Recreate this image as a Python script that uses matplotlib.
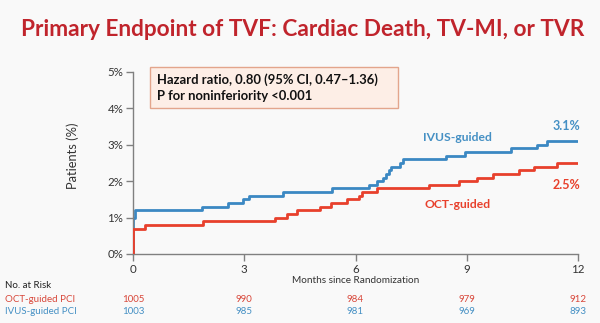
import matplotlib
matplotlib.use("Agg")
import matplotlib.pyplot as plt
from matplotlib.patches import FancyBboxPatch

plt.rcParams['font.family'] = ['Lato', 'DejaVu Sans']

# Data
oct_t = [0, 0, 0.32, 1.88, 3.83, 4.14, 4.43, 5.04, 5.35, 5.78, 6.09, 6.17, 6.57,
         7.99, 8.80, 9.27, 9.70, 10.41, 10.80, 11.44, 12.0]
oct_y = [0, 0.7, 0.8, 0.9, 1.0, 1.1, 1.2, 1.3, 1.4, 1.5, 1.6, 1.7, 1.8,
         1.9, 2.0, 2.1, 2.2, 2.3, 2.4, 2.5, 2.5]
ivus_t = [0, 0, 0.05, 1.85, 2.57, 2.96, 3.13, 4.05, 5.37, 6.36, 6.59, 6.75, 6.82,
          6.89, 6.95, 7.20, 7.29, 8.44, 8.94, 10.19, 10.90, 11.17, 12.0]
ivus_y = [0, 1.0, 1.2, 1.3, 1.4, 1.5, 1.6, 1.7, 1.8, 1.9, 2.0, 2.1, 2.2,
          2.3, 2.4, 2.5, 2.6, 2.7, 2.8, 2.9, 3.0, 3.1, 3.1]
x_ticks = [0, 3, 6, 9, 12]
y_ticks = [0, 1, 2, 3, 4, 5]
y_ticklabels = ["0%", "1%", "2%", "3%", "4%", "5%"]
risk_oct = [1005, 990, 984, 979, 912]
risk_ivus = [1003, 985, 981, 969, 893]

title = "Primary Endpoint of TVF: Cardiac Death, TV-MI, or TVR"
box_text = "Hazard ratio, 0.80 (95% CI, 0.47\u20131.36)\nP for noninferiority <0.001"

RED = "#e8402c"
BLUE = "#3b88c3"
RED_TXT = "#d8473a"
BLUE_TXT = "#4590c4"
TITLE_RED = "#c0242c"
BG = "#f9f9f9"

fig = plt.figure(figsize=(6.0, 3.23), dpi=100, facecolor=BG)
ax = fig.add_axes([133/600, 1-254/323, 445/600, 182/323])
ax.set_facecolor(BG)

ax.step(oct_t, oct_y, where='post', color=RED, lw=2.0, zorder=3)
ax.step(ivus_t, ivus_y, where='post', color=BLUE, lw=2.0, zorder=2)

ax.set_xlim(0, 12)
ax.set_ylim(0, 5)
ax.set_xticks(x_ticks)
ax.set_yticks(y_ticks)
ax.set_yticklabels(y_ticklabels)
for s in ['top', 'right']:
    ax.spines[s].set_visible(False)
for s in ['left', 'bottom']:
    ax.spines[s].set_color("#808080")
    ax.spines[s].set_linewidth(1.0)
ax.tick_params(axis='both', colors="#808080", labelcolor="#333333",
               labelsize=8.3, length=5, width=1.0, direction='out', pad=2)
ax.set_xlabel("Months since Randomization", fontsize=7.2, color="#333333", labelpad=1)

fig.text(73/600, 1-156/323, "Patients (%)", fontsize=9.3, color="#333333",
         rotation=90, ha='center', va='center')

# Title
fig.text(21/600, 1-30/323, title, fontsize=16.3, fontweight='bold',
         color=TITLE_RED, va='center', ha='left')

# Hazard ratio box
fig.patches.append(FancyBboxPatch((150/600, 1-108/323), 248/600, 41/323,
                                  boxstyle="square,pad=0", transform=fig.transFigure,
                                  facecolor="#fdeee6", edgecolor="#e3a58c", lw=1.0))
fig.text(157/600, 1-88/323, box_text, fontsize=9.4, fontweight='bold',
         color="#111111", va='center', ha='left', linespacing=1.4)

# Curve labels
ax.text(8.76, 3.21, "IVUS-guided", color=BLUE_TXT, fontsize=8.7, fontweight='bold',
        ha='center', va='center')
ax.text(8.75, 1.37, "OCT-guided", color=RED, fontsize=8.7, fontweight='bold',
        ha='center', va='center')
ax.text(12.05, 3.52, "3.1%", color=BLUE_TXT, fontsize=9, fontweight='bold',
        ha='right', va='center')
ax.text(12.05, 1.90, "2.5%", color=RED, fontsize=9, fontweight='bold',
        ha='right', va='center')

# Number at risk
fig.text(5/600, 1-286/323, "No. at Risk", fontsize=7, color="#222222", va='center')
fig.text(5/600, 1-299/323, "OCT-guided PCI", fontsize=7, color=RED_TXT, va='center')
fig.text(5/600, 1-312/323, "IVUS-guided PCI", fontsize=7, color=BLUE_TXT, va='center')
for t, a, b in zip(x_ticks, risk_oct, risk_ivus):
    xf = (133 + t * 445 / 12) / 600
    fig.text(xf, 1-299/323, str(a), fontsize=7, color=RED_TXT, va='center', ha='center')
    fig.text(xf, 1-312/323, str(b), fontsize=7, color=BLUE_TXT, va='center', ha='center')

fig.savefig("out.png", dpi=100, facecolor=BG)
